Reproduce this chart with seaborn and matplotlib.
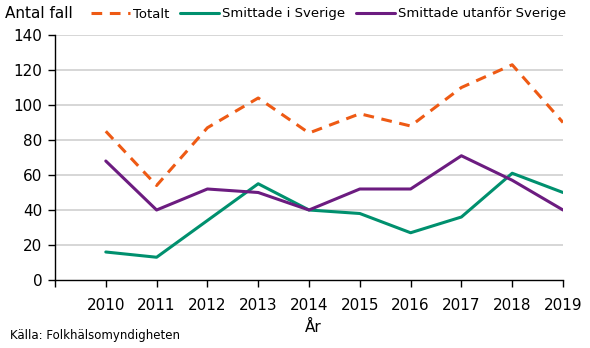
import matplotlib
matplotlib.use("Agg")
import matplotlib.pyplot as plt
import seaborn as sns
import pandas as pd
from matplotlib.lines import Line2D

years = [2010, 2011, 2012, 2013, 2014, 2015, 2016, 2017, 2018, 2019]
totalt = [85, 54, 87, 104, 84, 95, 88, 110, 123, 90]
sverige = [16, 13, 34, 55, 40, 38, 27, 36, 61, 50]
utanfor = [68, 40, 52, 50, 40, 52, 52, 71, 57, 40]
series_names = ["Totalt", "Smittade i Sverige", "Smittade utanför Sverige"]
colors = ["#EE5A14", "#00906E", "#6C1C80"]
yticks = [0, 20, 40, 60, 80, 100, 120, 140]

sns.set_theme(style="white")
plt.rcParams["font.family"] = ["DejaVu Sans"]
plt.rcParams["text.color"] = "black"
plt.rcParams["xtick.color"] = "black"
plt.rcParams["ytick.color"] = "black"

df = pd.DataFrame({
    "År": years * 3,
    "Antal": totalt + sverige + utanfor,
    "Serie": [series_names[0]] * len(years) + [series_names[1]] * len(years) + [series_names[2]] * len(years),
})

fig = plt.figure(figsize=(5.9, 3.48), dpi=100)
ax = fig.add_axes([55 / 590, 1 - 280 / 348, (563 - 55) / 590, (280 - 35) / 348])

sns.lineplot(data=df, x="År", y="Antal", hue="Serie", style="Serie",
             palette=dict(zip(series_names, colors)),
             dashes={series_names[0]: (3.5, 2.5), series_names[1]: "", series_names[2]: ""},
             linewidth=2.2, ax=ax, legend=False)

ax.set_xlim(years[0] - 1, years[-1])
ax.set_ylim(0, 140)
ax.set_yticks(yticks)
ax.set_yticklabels([str(v) for v in yticks], fontsize=11)
ax.set_xticks([years[0] - 1] + years)
ax.set_xticklabels([""] + [str(y) for y in years], fontsize=11)
for v in yticks[1:]:
    ax.axhline(v, color="#D0D0D0", linewidth=1.2, zorder=0)
for s in ["top", "right"]:
    ax.spines[s].set_visible(False)
for s in ["left", "bottom"]:
    ax.spines[s].set_color("black")
    ax.spines[s].set_linewidth(1.0)
ax.tick_params(axis="both", which="both", direction="out", length=5, width=1, color="black",
               left=True, bottom=True, pad=4, labelcolor="black")
ax.tick_params(axis="x", pad=8)
ax.set_xlabel("")
ax.set_ylabel("")

fig.text(5 / 590, 1 - 13 / 348, "Antal fall", fontsize=11, va="center", ha="left")
fig.text(313 / 590, 1 - 327 / 348, "År", fontsize=11, va="center", ha="center")
fig.text(10 / 590, 1 - 335 / 348, "Källa: Folkhälsomyndigheten", fontsize=8.5, va="center", ha="left")

handles = [
    Line2D([], [], color=colors[0], linewidth=2.2, dashes=(3.5, 2.5)),
    Line2D([], [], color=colors[1], linewidth=2.2),
    Line2D([], [], color=colors[2], linewidth=2.2),
]
fig.legend(handles, series_names, loc="center right", bbox_to_anchor=(566 / 590, 1 - 14 / 348),
           ncol=3, frameon=False, fontsize=9.5, handlelength=3.0, handletextpad=0.2,
           columnspacing=0.8, borderaxespad=0, borderpad=0)

fig.savefig("out.png", dpi=100)
